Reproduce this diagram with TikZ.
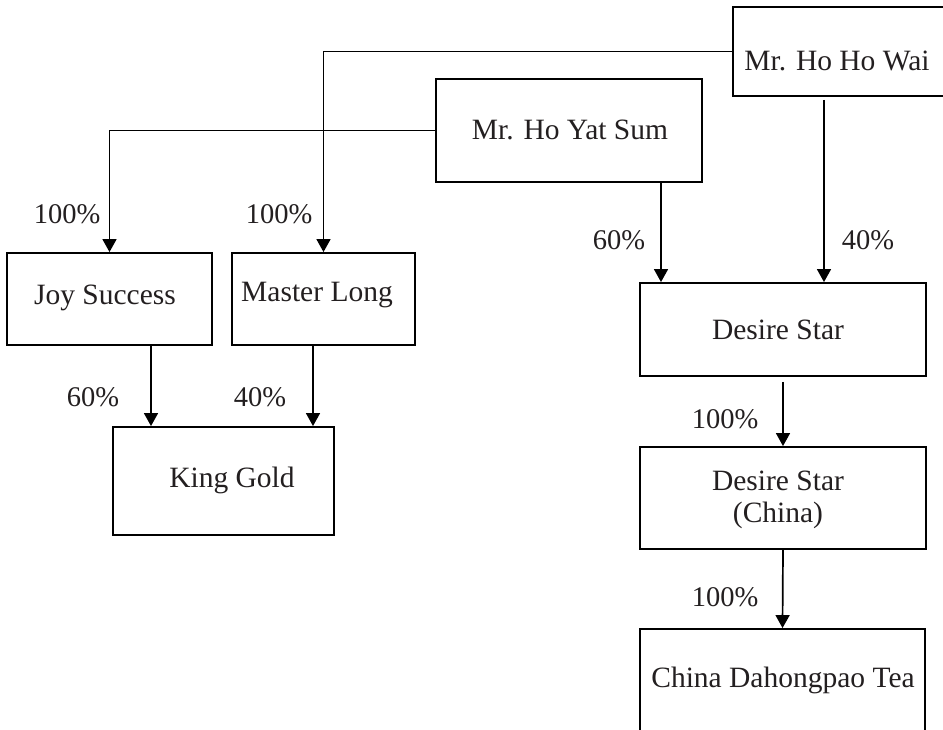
\documentclass[tikz,border=0pt]{standalone}
\usepackage{fontspec}
\setmainfont{Liberation Serif}
\usetikzlibrary{arrows.meta}
\definecolor{ink}{HTML}{231F20}
\tikzset{
  box/.style={draw=black, line width=1.9pt, rectangle, inner sep=0pt},
  txt/.style={text=ink, font=\fontsize{29.5}{35}\selectfont, inner sep=0pt, align=center},
  pct/.style={text=ink, font=\fontsize{28.5}{34}\selectfont, inner sep=0pt},
  arr/.style={draw=black, line width=1.7pt, -{Triangle[length=13pt,width=14pt]}},
  ln/.style={draw=black, line width=1.7pt}
}
\begin{document}
\begin{tikzpicture}[x=1pt,y=-1pt]
\useasboundingbox (0,0) rectangle (943,729);
\clip (0,0) rectangle (943,729);
% boxes
\node[box, minimum width=230pt, minimum height=89pt] (hhw) at (848,51.5) {};
\node[box, minimum width=266pt, minimum height=103pt] (hys) at (569,130.5) {};
\node[box, minimum width=205pt, minimum height=92pt] (joy) at (109.5,299) {};
\node[box, minimum width=183pt, minimum height=92pt] (ml) at (323.5,299) {};
\node[box, minimum width=221pt, minimum height=108pt] (kg) at (223.5,481) {};
\node[box, minimum width=286pt, minimum height=93pt] (ds) at (783,329.5) {};
\node[box, minimum width=286pt, minimum height=102pt] (dsc) at (783,498) {};
\node[box, minimum width=285pt, minimum height=120pt] (cdt) at (782.5,689) {};
% texts
\node[txt] (thhw) at (837,61) {Mr. Ho Ho Wai};
\node[txt] (thys) at (570,130) {Mr. Ho Yat Sum};
\node[txt] (tjoy) at (105,298) {Joy Success};
\node[txt] (tml) at (317,295) {Master Long};
\node[txt] (tkg) at (232,480) {King Gold};
\node[txt] (tds) at (778,330) {Desire Star};
\node[txt] (tdsc) at (778,500) {Desire Star\\[-3pt](China)};
\node[txt] (tcdt) at (783,680) {China Dahongpao Tea};
% x positions of vertical connectors
\coordinate (x1) at (661,0);
\coordinate (x2) at (824,0);
\coordinate (x3) at (151,0);
\coordinate (x4) at (313,0);
% connectors
\draw[arr] (hhw.west) -| (ml.north);
\draw[arr] (hys.west) -| (joy.north);
\draw[arr] (x1 |- hys.south) -- (x1 |- ds.north);
\draw[arr, shorten <=3pt] (x2 |- hhw.south) -- (x2 |- ds.north);
\draw[arr] (x3 |- joy.south) -- (x3 |- kg.north);
\draw[arr] (x4 |- ml.south) -- (x4 |- kg.north);
\draw[arr, shorten <=5pt] (ds.south) -- (dsc.north);
\draw[arr] (dsc.south) -- (cdt.north);
% labels
\node[pct] (l1) at (279,214) {100\%};
\node[pct] (l2) at (67,214) {100\%};
\node[pct] (l3) at (619,240) {60\%};
\node[pct] (l4) at (868,240) {40\%};
\node[pct] (l5) at (93,397) {60\%};
\node[pct] (l6) at (260,397) {40\%};
\node[pct] (l7) at (725,419) {100\%};
\node[pct] (l8) at (725,597) {100\%};
\end{tikzpicture}
\end{document}
